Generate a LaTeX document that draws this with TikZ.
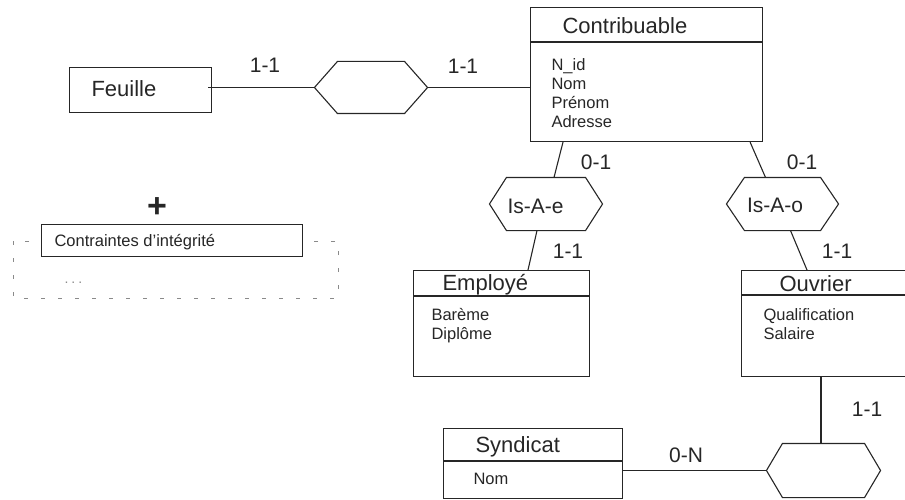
\documentclass[tikz,border=0pt]{standalone}
\usepackage{fontspec}
\setmainfont{Liberation Sans}
\usetikzlibrary{calc}
\definecolor{ink}{HTML}{262626}
\definecolor{faint}{HTML}{8A8A8A}
\newcommand\hexdraw[2]{\draw (#1.west) -- ([xshift=#2]#1.north west) -- ([xshift=-#2]#1.north east) -- (#1.east) -- ([xshift=-#2]#1.south east) -- ([xshift=#2]#1.south west) -- cycle;}
\begin{document}
\begin{tikzpicture}[x=1pt,y=-1pt, line width=1.1pt, draw=ink, text=ink,
  entbox/.style={draw, rectangle, inner sep=0pt, anchor=north west},
  hexa/.style={rectangle, draw=none, inner sep=0pt},
  hdr/.style={anchor=base west, inner sep=0pt, font=\fontsize{22}{26}\selectfont},
  attr/.style={anchor=base west, inner sep=0pt, align=left, font=\fontsize{16.5}{19}\selectfont},
  card/.style={anchor=base, inner sep=0pt, font=\fontsize{21}{24}\selectfont},
  rolename/.style={anchor=base, inner sep=0pt, font=\fontsize{21}{24}\selectfont}]
\useasboundingbox (0,0) rectangle (905,500);
\clip (0,0) rectangle (905,500);

% ---------- entities ----------
\node[entbox, minimum width=142pt, minimum height=45pt] (feuille) at (69,67) {};
\node[hdr] (feuilletxt) at (91,97) {Feuille};

\node[entbox, minimum width=232pt, minimum height=134pt] (contrib) at (530,7) {};
\draw ($(contrib.north west)+(0,35)$) -- ($(contrib.north east)+(0,35)$);
\node[hdr] (contribtxt) at (562,34) {Contribuable};
\node[attr] (contribattr) at (551,128) {N\_id\\Nom\\Prénom\\Adresse};

\node[entbox, minimum width=176pt, minimum height=106pt] (employe) at (413,270) {};
\draw ($(employe.north west)+(0,26)$) -- ($(employe.north east)+(0,26)$);
\node[hdr] (employetxt) at (442,290) {Employé};
\node[attr] (employeattr) at (431,339) {Barème\\Diplôme};

\node[entbox, minimum width=180pt, minimum height=106pt] (ouvrier) at (741,270) {};
\draw ($(ouvrier.north west)+(0,25)$) -- ($(ouvrier.north east)+(0,25)$);
\node[hdr] (ouvriertxt) at (779,291) {Ouvrier};
\node[attr] (ouvrierattr) at (763,339) {Qualification\\Salaire};

\node[entbox, minimum width=179pt, minimum height=70pt] (synd) at (443,428) {};
\draw ($(synd.north west)+(0,33)$) -- ($(synd.north east)+(0,33)$);
\node[hdr] (syndtxt) at (475,452) {Syndicat};
\node[attr] (syndattr) at (473,484) {Nom};

% ---------- relationships ----------
\node[hexa, minimum width=112pt, minimum height=51pt] (rel1) at (371,87.5) {};
\hexdraw{rel1}{23pt}
\node[hexa, minimum width=112pt, minimum height=52pt] (ise) at (546,204) {};
\hexdraw{ise}{17pt}
\node[rolename] (isetxt) at (535.5,213) {Is-A-e};
\node[hexa, minimum width=111pt, minimum height=52pt] (iso) at (782.5,204) {};
\hexdraw{iso}{18pt}
\node[rolename] (isotxt) at (775,212) {Is-A-o};
\node[hexa, minimum width=113pt, minimum height=53pt] (rel3) at (823.5,470.5) {};
\hexdraw{rel3}{16pt}

% ---------- connectors ----------
\draw ([xshift=-4pt]feuille.east |- rel1.west) -- (rel1.west);
\draw (rel1.east) -- (rel1.east -| contrib.west);
\draw ($(contrib.south west)+(33,0)$) -- ($(ise.north)+(8,0)$);
\draw ($(ise.south)+(-9,0)$) -- ($(employe.north west)+(115,0)$);
\draw ($(contrib.south east)+(-13,0)$) -- ($(iso.north)+(-17,0)$);
\draw ($(iso.south)+(8,0)$) -- ($(ouvrier.north west)+(66,0)$);
\draw ($(ouvrier.south west)+(80,0)$) -- ($(rel3.north)+(-2.5,0)$);
\draw (synd.east |- rel3.west) -- (rel3.west);

% ---------- cardinalities ----------
\node[card] (c1) at (265,73) {1-1};
\node[card] (c2) at (463,74) {1-1};
\node[card] (c3) at (596,170) {0-1};
\node[card] (c4) at (802,170) {0-1};
\node[card] (c5) at (568,258) {1-1};
\node[card] (c6) at (837,258) {1-1};
\node[card] (c7) at (867,416) {1-1};
\node[card] (c8) at (686,462) {0-N};

% ---------- constraints ----------
\node[inner sep=0pt, font=\bfseries\fontsize{34}{34}\selectfont] (plus) at (157,208) {+};
\draw[faint, line width=0.9pt, dash pattern=on 4pt off 13pt] (13,241) rectangle (338,298);
\node[entbox, fill=white, line width=1pt, minimum width=261pt, minimum height=32pt] (cbox) at (41,224) {};
\node[attr] (ctxt) at (54,246) {Contraintes d\symbol{39}intégrité};
\node[anchor=base west, inner sep=0pt, text=faint, font=\fontsize{14}{16}\selectfont] (dots) at (64,283) {.\hspace{3pt}.\hspace{3pt}.};
\end{tikzpicture}
\end{document}
